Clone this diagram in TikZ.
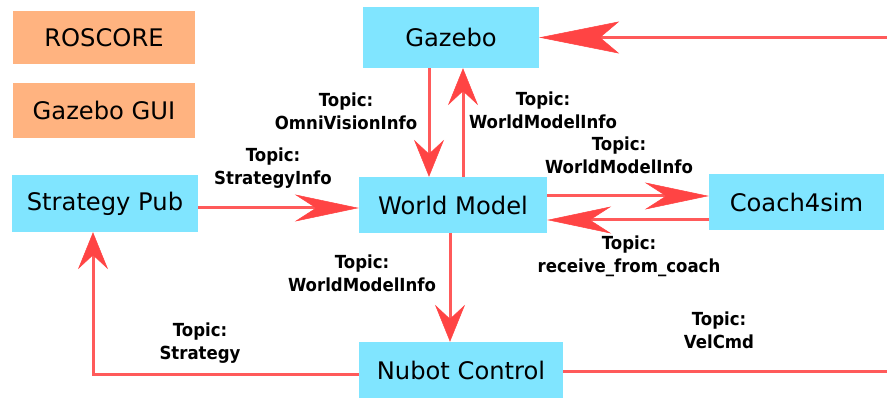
\documentclass[tikz,border=0pt]{standalone}
\usepackage{fontspec}
\setmainfont{DejaVu Sans}
\newfontfamily\topicfont[FakeStretch=0.92]{DejaVu Sans}
\usepackage{tikz}
\usetikzlibrary{arrows.meta}

\definecolor{simblue}{HTML}{80E5FF}
\definecolor{coreorange}{HTML}{FFB380}
\definecolor{linkred}{HTML}{FF5A5A}
\definecolor{tipred}{HTML}{FF4444}

\tikzset{
  simnode/.style={fill=simblue,inner sep=0pt,font=\fontsize{24.2}{28}\selectfont},
  corenode/.style={fill=coreorange,inner sep=0pt,font=\fontsize{24.2}{28}\selectfont},
  topic/.style={align=center,inner sep=0pt,font=\topicfont\fontsize{18}{23}\selectfont\bfseries},
  link/.style={draw=linkred,line width=3pt},
  shortlink/.style={link,-{Stealth[length=37pt,width=30pt,inset=14pt,color=tipred,line width=0.5pt]}},
  longlink/.style={link,-{Stealth[length=64pt,width=27pt,inset=21pt,color=tipred,line width=0.5pt]}},
  biglink/.style={link,-{Stealth[length=80pt,width=32pt,inset=19pt,color=tipred,line width=0.5pt]}}
}

\begin{document}
\begin{tikzpicture}[x=1pt,y=-1pt]
\useasboundingbox (0,0) rectangle (887,398);

\node[corenode,minimum width=182pt,minimum height=53pt] (roscore) at (104,37.5) {ROSCORE};
\node[corenode,minimum width=182pt,minimum height=55pt] (gui) at (104,110.5) {Gazebo GUI};
\node[simnode,minimum width=176pt,minimum height=61pt] (gazebo) at (451,37.5) {Gazebo};
\node[simnode,minimum width=188pt,minimum height=56pt] (wm) at (453,205) {World Model};
\node[simnode,minimum width=186pt,minimum height=57pt] (strat) at (105,203.5) {Strategy Pub};
\node[simnode,minimum width=175pt,minimum height=56pt] (coach) at (796.5,202) {Coach4sim};
\node[simnode,minimum width=204pt,minimum height=56pt] (nubot) at (461,370) {Nubot Control};

\coordinate (gzin) at (890,37.5);
\coordinate (velout) at (890,371);

\draw[biglink] (gzin) -- (gazebo.east);
\draw[shortlink] ([xshift=-22pt]gazebo.south) -- ([xshift=-22pt]gazebo.south |- wm.north);
\draw[shortlink] ([xshift=10pt]wm.north) -- ([xshift=10pt]wm.north |- gazebo.south);
\draw[longlink] ([yshift=-4.5pt]strat.east) -- ([yshift=-4.5pt]strat.east -| wm.west);
\draw[longlink] ([yshift=9pt]wm.east) -- ([yshift=9pt]wm.east -| coach.west);
\draw[longlink] ([yshift=-18pt]coach.west) -- ([yshift=-18pt]coach.west -| wm.east);
\draw[shortlink] ([xshift=-3pt]wm.south) -- ([xshift=-3pt]wm.south |- nubot.north);
\draw[shortlink] ([yshift=-4pt]nubot.west) -| ([xshift=-12pt]strat.south);
\draw[link] ([yshift=-1pt]nubot.east) -- (velout);

% topic labels
\node[topic] (omni) at (346,111) {Topic:\\OmniVisionInfo};
\node[topic] (wmiup) at (543,110) {Topic:\\WorldModelInfo};
\node[topic] (wmicoach) at (619,155) {Topic:\\WorldModelInfo};
\node[topic] (stratinfo) at (273,168) {Topic:\\StrategyInfo};
\node[topic] (wmidown) at (362,273) {Topic:\\WorldModelInfo};
\node[topic] (recv) at (629,256) {Topic:\\receive\_from\_coach};
\node[topic] (stratcmd) at (200,343) {Topic:\\Strategy};
\node[topic] (vel) at (719,330) {Topic:\\VelCmd};
\end{tikzpicture}
\end{document}
